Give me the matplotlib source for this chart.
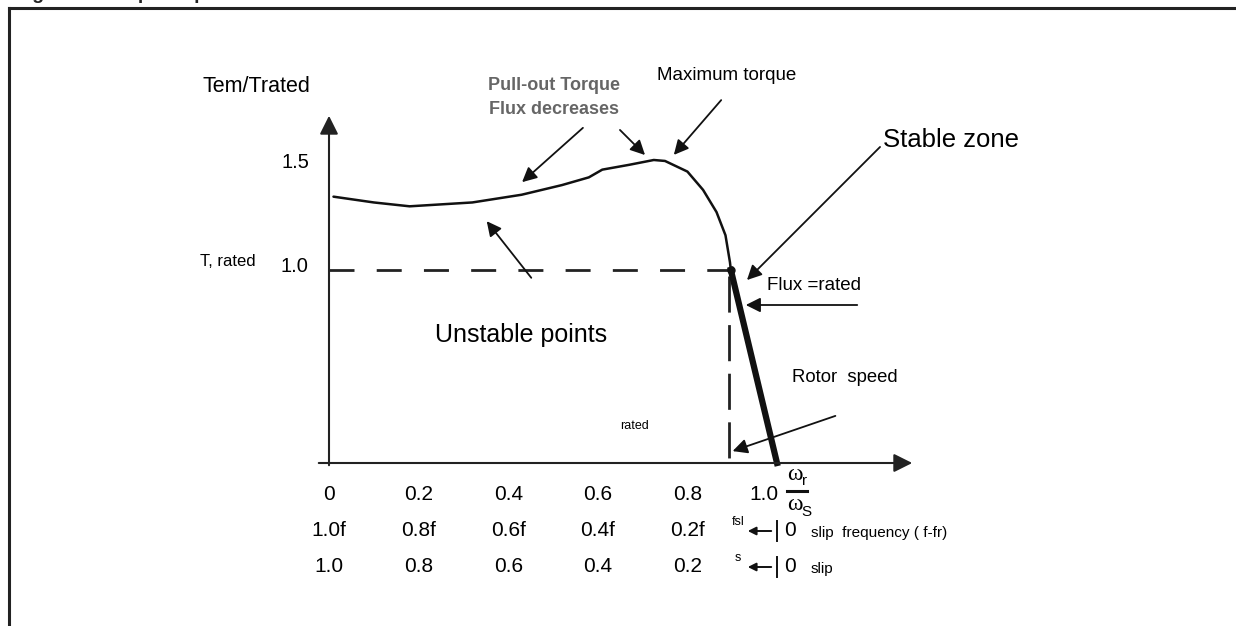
import matplotlib
matplotlib.use("Agg")
import matplotlib.pyplot as plt
from matplotlib.lines import Line2D

plt.rcParams['font.family'] = ['Liberation Sans', 'DejaVu Sans']
plt.rcParams['lines.scale_dashes'] = False

# Torque-speed curve (speed = wr/ws, torque = Tem/Trated)
speed = [0.01, 0.10, 0.18, 0.32, 0.43, 0.52, 0.58, 0.61, 0.67, 0.725, 0.75,
         0.80, 0.835, 0.865, 0.885, 0.895, 0.897]
torque = [1.38, 1.35, 1.33, 1.35, 1.39, 1.44, 1.48, 1.52, 1.545, 1.57, 1.565,
          1.51, 1.415, 1.30, 1.18, 1.04, 1.0]
stable_speed = [0.897, 1.0]
stable_torque = [1.0, 0.0]
rated_speed = 0.897
rated_torque = 1.0

speed_ticks = [0, 0.2, 0.4, 0.6, 0.8, 1.0]
speed_labels = ['0', '0.2', '0.4', '0.6', '0.8', '1.0']
slip_freq_labels = ['1.0f', '0.8f', '0.6f', '0.4f', '0.2f']
slip_labels = ['1.0', '0.8', '0.6', '0.4', '0.2']

# pixel anchors of the drawing
X0, XS = 329, 448
Y0, YS = 463, 193


def px(x, y):
    return ((x - X0) / XS, (Y0 - y) / YS)


fig = plt.figure(figsize=(12.36, 6.26), dpi=100)
ax = fig.add_axes([0, 0, 1, 1])
ax.axis('off')
ax.set_xlim(px(0, 0)[0], px(1236, 0)[0])
ax.set_ylim(px(0, 626)[1], px(0, 0)[1])

# outer frame and title (only its lower edge is in the picture)
fig.add_artist(Line2D([9 / 1236, 9 / 1236], [0, 1 - 7.5 / 626], transform=fig.transFigure,
                      color='#222222', lw=2.2))
fig.add_artist(Line2D([9 / 1236, 1], [1 - 7.5 / 626, 1 - 7.5 / 626], transform=fig.transFigure,
                      color='#222222', lw=2.2))
fig.text(0.012, 1 + 1 / 626, 'Figure 2  Torque - speed curve',
         fontsize=14, fontweight='bold', va='baseline', color='#222222')

# axes with arrows
ax.annotate('', xy=px(915, 463), xytext=px(316, 463),
            arrowprops=dict(arrowstyle='-|>', color='#222222', lw=1.5, mutation_scale=28))
ax.annotate('', xy=px(329, 113), xytext=px(329, 468),
            arrowprops=dict(arrowstyle='-|>', color='#222222', lw=1.5, mutation_scale=28))

# rated dashed lines
ax.plot([0, rated_speed], [rated_torque, rated_torque], color='#222222', lw=2.0, dashes=(18, 16))
ax.plot([rated_speed - 0.005, rated_speed - 0.005], [rated_torque - 0.03, -0.035],
        color='#222222', lw=2.0, dashes=(26, 9))

# curve
ax.plot(speed, torque, color='#111111', lw=1.8, solid_capstyle='round', solid_joinstyle='round')
ax.plot(stable_speed, stable_torque, color='#111111', lw=4.5)
ax.plot([rated_speed], [rated_torque], 'o', color='#111111', ms=5)

# annotation arrows
arr = dict(arrowstyle='-|>', color='#111111', lw=1.3, mutation_scale=22)
arrows = [((585, 126), (520, 184)), ((618, 128), (647, 157)), ((723, 98), (672, 157)),
          ((882, 145), (745, 282)), ((860, 305), (743, 305)), ((533, 280), (485, 219)),
          ((838, 415), (730, 452))]
for start, tip in arrows:
    ax.annotate('', xy=px(*tip), xytext=px(*start), arrowprops=arr)

ax.text(*px(310, 87), 'Tem/Trated', fontsize=15.5, ha='right', va='center')
ax.text(*px(309, 163), '1.5', fontsize=14.5, ha='right', va='center')
ax.text(*px(256, 262), 'T, rated', fontsize=12, ha='right', va='center')
ax.text(*px(308, 266), '1.0', fontsize=14.5, ha='right', va='center')
ax.text(*px(554, 86), 'Pull-out Torque', fontsize=13, fontweight='bold', color='#666666',
        ha='center', va='center')
ax.text(*px(554, 110), 'Flux decreases', fontsize=13, fontweight='bold', color='#666666',
        ha='center', va='center')
ax.text(*px(657, 75), 'Maximum torque', fontsize=13.5, va='center')
ax.text(*px(883, 140), 'Stable zone', fontsize=18.5, va='center')
ax.text(*px(767, 285), 'Flux =rated', fontsize=13.5, va='center')
ax.text(*px(607, 335), 'Unstable points', fontsize=18, ha='right', va='center')
ax.text(*px(792, 377), 'Rotor  speed', fontsize=13.3, va='center')
ax.text(*px(620, 426), 'rated', fontsize=9, va='center')

# speed row
for s, lab in zip(speed_ticks, speed_labels):
    xs = s - 0.03 if s == 1.0 else s
    ax.text(xs, px(0, 494)[1], lab, fontsize=15, ha='center', va='center')
ax.text(*px(795, 474), 'ω', fontsize=17, ha='center', va='center', family='Liberation Serif')
ax.text(*px(805, 481), 'r', fontsize=11, ha='center', va='center')
ax.plot([px(787, 0)[0], px(807, 0)[0]], [px(0, 491)[1]] * 2, color='#111111', lw=2.2)
ax.text(*px(795, 505), 'ω', fontsize=17, ha='center', va='center', family='Liberation Serif')
ax.text(*px(806, 512), 'S', fontsize=11, ha='center', va='center')

# slip frequency row and slip row
for s, lab in zip(speed_ticks, slip_freq_labels):
    ax.text(s, px(0, 531)[1], lab, fontsize=15, ha='center', va='center')
for s, lab in zip(speed_ticks, slip_labels):
    ax.text(s, px(0, 567)[1], lab, fontsize=15, ha='center', va='center')

small_arr = dict(arrowstyle='-|>', color='#111111', lw=1.4, mutation_scale=12)
for yrow, sub, right in [(531, 'fsl', 'slip  frequency ( f-fr)'), (567, 's', 'slip')]:
    ax.annotate('', xy=px(745, yrow), xytext=px(774, yrow), arrowprops=small_arr)
    ax.plot([1.0, 1.0], [px(0, yrow - 10)[1], px(0, yrow + 10)[1]], color='#111111', lw=1.4)
    ax.text(*px(738, yrow - 9), sub, fontsize=9, ha='center', va='center')
    ax.text(*px(790, yrow), '0', fontsize=15, ha='center', va='center')
    ax.text(*px(811, yrow + 2), right, fontsize=11, va='center')

fig.savefig('out.png', dpi=100)
